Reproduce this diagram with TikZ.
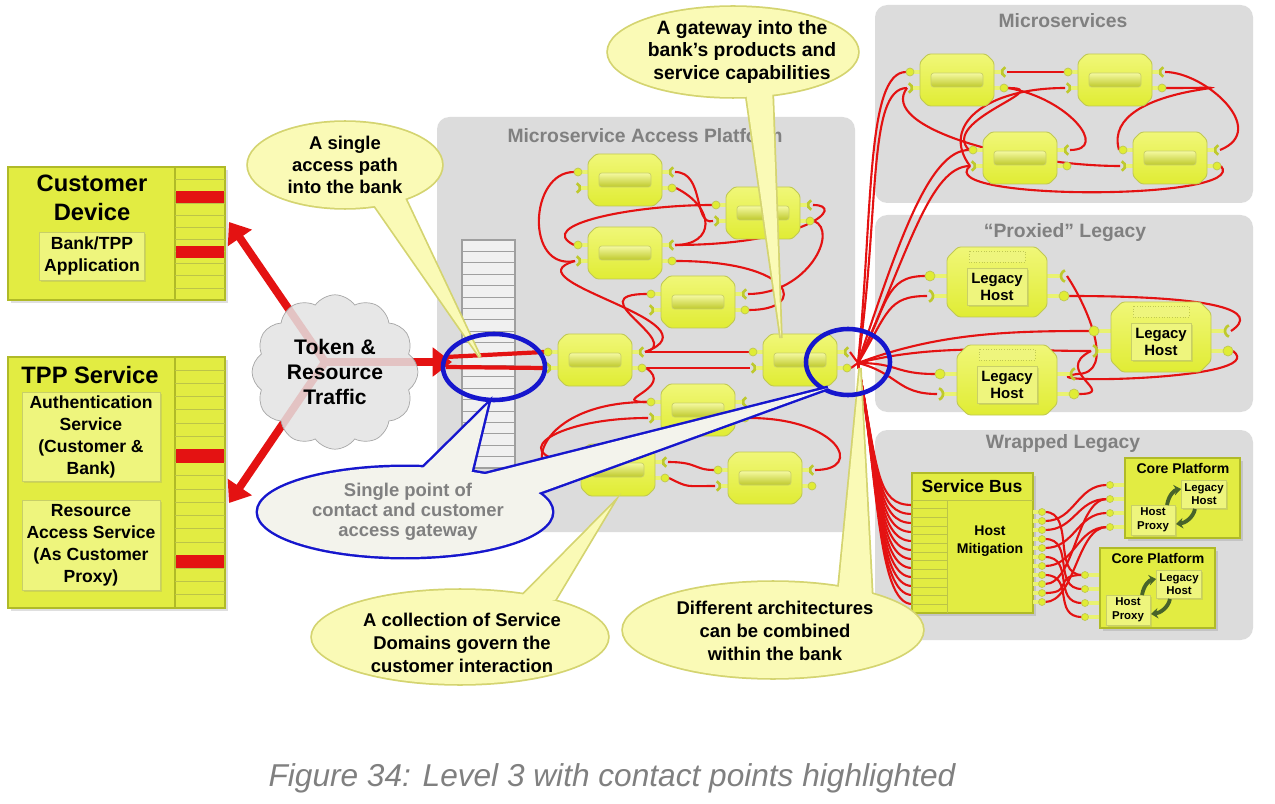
\documentclass[tikz,border=0pt]{standalone}
\usepackage{fontspec}
\setmainfont{Liberation Sans}
\usetikzlibrary{shapes.symbols,arrows.meta,shadows,calc}

\definecolor{panelgray}{RGB}{220,220,220}
\definecolor{titlegray}{RGB}{128,128,128}
\definecolor{devyellow}{RGB}{226,236,66}
\definecolor{devlight}{RGB}{238,245,125}
\definecolor{devedge}{RGB}{176,186,40}
\definecolor{modyellow}{RGB}{224,236,52}
\definecolor{modlight}{RGB}{240,247,120}
\definecolor{wirered}{RGB}{228,18,18}
\definecolor{ringblue}{RGB}{22,22,205}
\definecolor{calloutbg}{RGB}{250,250,182}
\definecolor{calloutedge}{RGB}{212,212,112}
\definecolor{contactbg}{RGB}{243,243,236}
\definecolor{swirlgreen}{RGB}{72,100,42}
\definecolor{captiongray}{RGB}{128,128,128}

\pgfdeclarelayer{panels}
\pgfdeclarelayer{wires}
\pgfsetlayers{panels,wires,main}

\tikzset{
  panel/.style = {fill=panelgray, rounded corners=7pt},
  paneltitle/.style = {text=titlegray, font=\bfseries\fontsize{11}{13}\selectfont},
  devbox/.style = {fill=devyellow, draw=devedge, line width=0.6pt,
                   drop shadow={opacity=0.25, shadow xshift=1.5pt, shadow yshift=-1.5pt}},
  innerbox/.style = {fill=devlight, draw=devedge!70, line width=0.5pt, align=center, inner sep=1pt,
                     drop shadow={opacity=0.2, shadow xshift=1pt, shadow yshift=-1pt}},
  devtitle/.style = {font=\bfseries\fontsize{13.5}{16.5}\selectfont, align=center},
  devtext/.style = {font=\bfseries\fontsize{10}{12.5}\selectfont},
  stripe/.style = {draw=devedge!85, line width=0.5pt},
  gwstack/.style = {fill=gray!12, draw=gray!75, line width=0.6pt},
  gwline/.style = {draw=gray!75, line width=0.5pt},
  wire/.style = {draw=wirered, line width=1.2pt},
  entrywire/.style = {draw=wirered, line width=2.4pt},
  bigarrow/.style = {draw=wirered, line width=4.5pt, -{Triangle[length=11pt,width=16pt]}},
  cloudy/.style = {cloud, cloud puffs=12, cloud puff arc=110, aspect=1.1, draw=gray!70,
                   fill=gray!22, fill opacity=0.85, text opacity=1, align=center,
                   font=\bfseries\fontsize{12}{14}\selectfont},
  modbody/.style = {top color=modlight, bottom color=modyellow, draw=devedge!80,
                    line width=0.5pt, rounded corners=1.5pt},
  modbar/.style = {top color=modlight!70!white, bottom color=modyellow!85!black, draw=devedge!70,
                   line width=0.4pt, rounded corners=1.5pt},
  portstub/.style = {draw=modyellow!70!white, line width=2pt},
  portball/.style = {fill=modyellow, draw=devedge!80, line width=0.4pt},
  portsock/.style = {draw=modyellow!85!black, line width=1.5pt},
  hostcap/.style = {fill=devlight, draw=devedge!80, densely dotted, line width=0.5pt},
  hostbox/.style = {fill=devlight, draw=devedge!70, line width=0.5pt, align=center, inner sep=1pt,
                    font=\bfseries\fontsize{8.5}{10}\selectfont,
                    drop shadow={opacity=0.2, shadow xshift=1pt, shadow yshift=-1pt}},
  smallhost/.style = {hostbox, font=\bfseries\fontsize{6.5}{7.8}\selectfont},
  coretitle/.style = {font=\bfseries\fontsize{8}{9}\selectfont},
  swirl/.style = {draw=swirlgreen, line width=2.2pt, -{Stealth[length=4pt,width=6pt]}},
  calloutrim/.style = {draw=calloutedge, line width=2pt},
  calloutbody/.style = {fill=calloutbg},
  callouttext/.style = {font=\bfseries\fontsize{10.5}{12.6}\selectfont, align=center},
  bluerim/.style = {draw=ringblue, line width=2.8pt},
  bluebody/.style = {fill=contactbg},
  ring/.style = {draw=ringblue, line width=2.6pt}
}

% one service domain module with its four ports
\newcommand\svcdom[3]{%
  \begin{scope}[shift={(#2,#3)}]
    \draw[portstub] (-37,-8) -- (-46,-8) (-37,8) -- (-45,8) (37,-8) -- (45,-8) (37,8) -- (46,8);
    \path[portball] (-47,-8) circle (4) (47,8) circle (4);
    \draw[portsock] (-50,8) ++(-70:5) arc (-70:70:5);
    \draw[portsock] (50,-8) ++(110:5) arc (110:250:5);
    \path[modbody] (-37,-18) -- (-29,-26) -- (29,-26) -- (37,-18) -- (37,18)
                   -- (29,26) -- (-29,26) -- (-37,18) -- cycle;
    \path[modbar] (-26,-7) rectangle (26,7);
    \coordinate (#1-lb) at (-51,-8);
    \coordinate (#1-ls) at (-50,8);
    \coordinate (#1-rs) at (50,-8);
    \coordinate (#1-rb) at (51,8);
  \end{scope}}

% one proxied legacy host
\newcommand\legacyhost[3]{%
  \begin{scope}[shift={(#2,#3)}]
    \draw[portstub] (-50,-6) -- (-66,-6) (-50,14) -- (-64,14) (50,-6) -- (64,-6) (50,14) -- (66,14);
    \path[portball] (-67,-6) circle (5) (67,14) circle (5);
    \draw[portsock] (-70,14) ++(-70:6) arc (-70:70:6);
    \draw[portsock] (70,-6) ++(110:6) arc (110:250:6);
    \path[modbody] (-50,-24) -- (-39,-35) -- (39,-35) -- (50,-24) -- (50,24)
                   -- (39,35) -- (-39,35) -- (-50,24) -- cycle;
    \path[hostcap] (-28,-31) rectangle (28,-20);
    \node[hostbox, minimum width=1.2cm, minimum height=0.74cm] (#1-host) at (0,5) {Legacy\\Host};
    \coordinate (#1-lb) at (-72,-6);
    \coordinate (#1-ls) at (-70,14);
    \coordinate (#1-rs) at (70,-6);
    \coordinate (#1-rb) at (72,14);
  \end{scope}}

% core platform with host proxy
\newcommand\coreplat[3]{%
  \begin{scope}[shift={(#2,#3)}]
    \foreach \py [count=\k] in {27,41,55,69} {
      \draw[portstub] (-14,\py) -- (0,\py);
      \path[portball] (-15,\py) circle (3.5);
      \coordinate (#1-p\k) at (-18,\py);
    }
    \path[devbox] (0,0) rectangle (115,80);
    \node[coretitle] (#1-title) at (58,10) {Core Platform};
    \node[smallhost, minimum width=0.9cm, minimum height=0.56cm] (#1-legacy) at (79,36) {Legacy\\Host};
    \node[smallhost, minimum width=0.88cm, minimum height=0.6cm] (#1-proxy) at (28,62) {Host\\Proxy};
    \draw[swirl] (42,47) .. controls (44,36) and (50,32) .. (56,31);
    \draw[swirl] (70,51) .. controls (68,60) and (60,65) .. (51,66);
  \end{scope}}

\begin{document}
\begin{tikzpicture}[x=0.02cm, y=-0.02cm]
  \useasboundingbox (0,0) rectangle (1275,804);

  \begin{pgfonlayer}{panels}
    \fill[white] (0,0) rectangle (1275,804);
    \path[panel] (437,117) rectangle (855,532);
    \path[panel] (875,5) rectangle (1253,203);
    \path[panel] (875,215) rectangle (1253,412);
    \path[panel] (875,430) rectangle (1253,640);
    \node[paneltitle] (maptitle) at (645,136) {Microservice Access Platform};
    \node[paneltitle] (mstitle) at (1063,21) {Microservices};
    \node[paneltitle] (pxtitle) at (1065,233) {“Proxied” Legacy};
    \node[paneltitle] (wltitle) at (1063,444) {Wrapped Legacy};
    % access gateway stack
    \path[gwstack] (462,240) rectangle (515,468);
    \foreach \k in {1,...,19}
      \draw[gwline] (462,{240+11.4*\k}) -- (515,{240+11.4*\k});
  \end{pgfonlayer}

  % microservice access platform
  \svcdom{A}{625}{180}
  \svcdom{B}{763}{213}
  \svcdom{C}{625}{253}
  \svcdom{D}{698}{302}
  \svcdom{E}{595}{360}
  \svcdom{F}{800}{360}
  \svcdom{G}{698}{410}
  \svcdom{H}{618}{470}
  \svcdom{I}{765}{478}

  % microservices
  \svcdom{ms1}{957}{80}
  \svcdom{ms2}{1115}{80}
  \svcdom{ms3}{1020}{158}
  \svcdom{ms4}{1170}{158}

  % proxied legacy
  \legacyhost{lh1}{997}{282}
  \legacyhost{lh2}{1161}{337}
  \legacyhost{lh3}{1007}{380}

  % wrapped legacy
  \path[devbox] (912,473) rectangle (1033,613);
  \draw[stripe] (912,500) -- (1033,500);
  \draw[stripe] (947,500) -- (947,613);
  \foreach \k in {1,...,12}
    \draw[stripe] (912,{500+8.7*\k}) -- (947,{500+8.7*\k});
  \node[font=\bfseries\fontsize{10}{12}\selectfont] (busname) at (972,486) {Service Bus};
  \node[font=\bfseries\fontsize{8}{10}\selectfont, align=center] (mitigation) at (990,541) {Host\\Mitigation};
  \foreach \k in {0,...,10} {
    \draw[portstub] (1033,{512+9*\k}) -- (1041,{512+9*\k});
    \path[portball] (1042,{512+9*\k}) circle (3.5);
    \coordinate (bus-o\k) at (1045,{512+9*\k});
  }
  \foreach \k in {0,...,11}
    \coordinate (bus-i\k) at (912,{505+9*\k});
  \coreplat{cpa}{1125}{458}
  \coreplat{cpb}{1100}{548}

  \coordinate (hub) at (858,363);
  \coordinate (gw-a) at (446,357);
  \coordinate (gw-b) at (446,367);

  \begin{pgfonlayer}{wires}
    \draw[entrywire] (gw-a) -- (E-lb);
    \draw[entrywire] (gw-b) -- (E-ls);
    \draw[wire] (A-lb) .. controls +(-45,0) and +(-50,10) .. (C-ls);
    \draw[wire] (A-rs) .. controls +(30,0) and +(-20,5) .. (B-ls);
    \draw[wire] (A-rb) .. controls +(40,20) and +(40,0) .. (C-rs);
    \draw[wire] (B-lb) .. controls +(-80,0) and +(-40,-20) .. (C-lb);
    \draw[wire] (B-rs) .. controls +(35,0) and +(130,0) .. (C-rs);
    \draw[wire] (B-rb) .. controls +(25,10) and +(60,0) .. (D-rs);
    \draw[wire] (C-rb) .. controls +(120,0) and +(60,0) .. (D-rb);
    \draw[wire] (D-lb) .. controls +(-70,0) and +(40,-10) .. (E-rs);
    \draw[wire] (C-ls) .. controls +(-70,20) and +(80,-30) .. (E-rs);
    \draw[wire] (E-rs) -- (F-lb);
    \draw[wire] (E-rb) -- (F-ls);
    \draw[wire] (E-rb) .. controls +(30,20) and +(-40,0) .. (G-lb);
    \draw[wire] (G-ls) .. controls +(-90,0) and +(-60,-10) .. (H-lb);
    \draw[wire] (G-lb) .. controls +(-110,0) and +(-50,0) .. (H-ls);
    \draw[wire] (H-rs) .. controls +(30,0) and +(-20,0) .. (I-lb);
    \draw[wire] (H-rb) .. controls +(20,10) and +(-30,0) .. (I-ls);
    \draw[wire] (G-rb) .. controls +(90,0) and +(50,0) .. (I-rs);
    \draw[wire] (F-rs) -- (hub);
    \draw[wire] (F-rb) -- (hub);
    % fan out to the microservices
    \draw[wire] (hub) .. controls +(15,-150) and +(-40,0) .. (ms1-lb);
    \draw[wire] (hub) .. controls +(22,-150) and +(-40,0) .. (ms1-ls);
    \draw[wire] (hub) .. controls +(40,-120) and +(-40,0) .. (ms3-lb);
    \draw[wire] (hub) .. controls +(50,-110) and +(-40,0) .. (ms3-ls);
    \draw[wire] (ms1-rs) -- (ms2-lb);
    \draw[wire] (ms1-rb) .. controls +(50,0) and +(-30,-30) .. (ms3-lb);
    \draw[wire] (ms2-ls) .. controls +(-80,0) and +(-30,-40) .. (ms3-ls);
    \draw[wire] (ms2-rs) .. controls +(40,0) and +(50,-20) .. (ms4-rs);
    \draw[wire] (ms2-rb) .. controls +(130,0) and +(-20,-70) .. (ms4-lb);
    \draw[wire] (ms4-rb) .. controls +(30,35) and +(-40,35) .. (ms3-ls);
    \draw[wire] (ms3-rs) .. controls +(40,0) and +(60,10) .. (ms1-rb);
    \draw[wire] (ms1-ls) .. controls +(-30,40) and +(-100,0) .. (ms4-ls);
    % fan out to the proxied legacy hosts
    \draw[wire] (hub) .. controls +(30,-60) and +(-40,0) .. (lh1-lb);
    \draw[wire] (hub) .. controls +(30,-50) and +(-40,0) .. (lh1-ls);
    \draw[wire] (hub) .. controls +(40,0) and +(-40,0) .. (lh3-lb);
    \draw[wire] (hub) .. controls +(40,10) and +(-40,0) .. (lh3-ls);
    \draw[wire] (hub) .. controls +(80,-30) and +(-80,0) .. (lh2-lb);
    \draw[wire] (hub) .. controls +(80,-20) and +(-80,0) .. (lh2-ls);
    \draw[wire] (lh1-rs) .. controls +(20,30) and +(40,0) .. (lh3-rs);
    \draw[wire] (lh1-rb) .. controls +(150,0) and +(30,-20) .. (lh2-rs);
    \draw[wire] (lh2-rb) .. controls +(40,30) and +(-60,10) .. (lh3-rs);
    \draw[wire] (lh3-rb) .. controls +(40,0) and +(-40,20) .. (lh2-ls);
    % fan out to the service bus
    \foreach \k in {0,...,11}
      \draw[wire] (hub) .. controls +(20,110) and +(-35,0) .. (bus-i\k);
    \draw[wire] (bus-o0) .. controls +(30,0) and +(-30,0) .. (cpb-p1);
    \draw[wire] (bus-o1) .. controls +(30,0) and +(-30,0) .. (cpa-p1);
    \draw[wire] (bus-o2) .. controls +(30,0) and +(-30,0) .. (cpa-p2);
    \draw[wire] (bus-o3) .. controls +(30,0) and +(-30,0) .. (cpb-p2);
    \draw[wire] (bus-o4) .. controls +(30,0) and +(-30,0) .. (cpa-p3);
    \draw[wire] (bus-o5) .. controls +(30,0) and +(-30,0) .. (cpb-p3);
    \draw[wire] (bus-o6) .. controls +(30,0) and +(-30,0) .. (cpa-p4);
    \draw[wire] (bus-o7) .. controls +(30,0) and +(-30,0) .. (cpb-p4);
    \draw[wire] (bus-o8) .. controls +(30,0) and +(-30,0) .. (cpa-p2);
    \draw[wire] (bus-o9) .. controls +(30,0) and +(-30,0) .. (cpb-p1);
    \draw[wire] (bus-o10) .. controls +(30,0) and +(-30,0) .. (cpa-p4);
  \end{pgfonlayer}

  % customer device
  \path[devbox] (8,167) rectangle (175,300);
  \path[devbox] (175,167) rectangle (225,300);
  \foreach \k in {1,...,10}
    \draw[stripe] (175,{167+12.1*\k}) -- (225,{167+12.1*\k});
  \fill[wirered] (176,{167+2*12.1}) rectangle (224,{167+3*12.1});
  \fill[wirered] (176,{167+6.5*12.1}) rectangle (224,{167+7.5*12.1});
  \node[devtitle] (custdev) at (92,198) {Customer\\Device};
  \node[innerbox, devtext, minimum width=2.1cm, minimum height=0.96cm] (bankapp) at (92,256) {Bank/TPP\\Application};

  % TPP service
  \path[devbox] (8,357) rectangle (175,608);
  \path[devbox] (175,357) rectangle (225,608);
  \foreach \k in {1,...,18}
    \draw[stripe] (175,{357+13.21*\k}) -- (225,{357+13.21*\k});
  \fill[wirered] (176,{357+7*13.21}) rectangle (224,{357+8*13.21});
  \fill[wirered] (176,{357+15*13.21}) rectangle (224,{357+16*13.21});
  \node[devtitle] (tppsvc) at (90,375) {TPP Service};
  \node[innerbox, devtext, minimum width=2.76cm, minimum height=1.78cm] (authsvc) at (91,437) {Authentication\\Service\\(Customer \&\\Bank)};
  \node[innerbox, devtext, minimum width=2.76cm, minimum height=1.8cm] (rasvc) at (91,545) {Resource\\Access Service\\(As Customer\\Proxy)};

  % token traffic
  \coordinate (tc) at (325,362);
  \coordinate (cd-in) at (229,222);
  \coordinate (tpp-in) at (229,503);
  \coordinate (gw-in) at (452,362);
  \draw[bigarrow] (tc) -- (cd-in);
  \draw[bigarrow] (tc) -- (tpp-in);
  \draw[bigarrow] (tc) -- (gw-in);
  \node[cloudy, minimum width=3.3cm, minimum height=3cm] (traffic) at (335,372) {Token \&\\Resource\\Traffic};

  % callouts
  \path[calloutrim] (345,165) ellipse (97 and 43);
  \path[calloutrim] (368,196) -- (480,357) -- (402,192) -- cycle;
  \path[calloutbody] (345,165) ellipse (97 and 43);
  \path[calloutbody] (368,196) -- (480,357) -- (402,192) -- cycle;
  \node[callouttext] (accesspath) at (345,165) {A single\\access path\\into the bank};

  \path[calloutrim] (733,52) ellipse (125 and 45);
  \path[calloutrim] (745,85) -- (781,338) -- (772,85) -- cycle;
  \path[calloutbody] (733,52) ellipse (125 and 45);
  \path[calloutbody] (745,85) -- (781,338) -- (772,85) -- cycle;
  \node[callouttext, font=\bfseries\fontsize{11}{12.8}\selectfont] (gateway) at (742,52) {A gateway into the\\bank’s products and\\service capabilities};

  \path[calloutrim] (460,637) ellipse (148 and 47);
  \path[calloutrim] (515,603) -- (612,505) -- (555,600) -- cycle;
  \path[calloutbody] (460,637) ellipse (148 and 47);
  \path[calloutbody] (515,603) -- (612,505) -- (555,600) -- cycle;
  \node[callouttext, font=\bfseries\fontsize{10.5}{13}\selectfont] (collection) at (462,643) {A collection of Service\\Domains govern the\\customer interaction};

  \path[calloutrim] (773,630) ellipse (150 and 48);
  \path[calloutrim] (838,596) -- (860,368) -- (872,598) -- cycle;
  \path[calloutbody] (773,630) ellipse (150 and 48);
  \path[calloutbody] (838,596) -- (860,368) -- (872,598) -- cycle;
  \node[callouttext, font=\bfseries\fontsize{10.5}{13.2}\selectfont] (combined) at (775,631) {Different architectures\\can be combined\\within the bank};

  % contact points
  \path[ring] (494,367) ellipse (51 and 33);
  \path[ring] (848,362) ellipse (42 and 33);

  \path[bluerim] (405,512) ellipse (147 and 45);
  \path[bluerim] (413,478) -- (488,404) -- (470,478) -- (828,388) -- (530,496) -- cycle;
  \path[bluebody] (405,512) ellipse (147 and 45);
  \path[bluebody] (413,478) -- (488,404) -- (470,478) -- (828,388) -- (530,496) -- cycle;
  \node[callouttext, text=titlegray, font=\bfseries\fontsize{10.5}{11.4}\selectfont] (contact) at (408,512) {Single point of\\contact and customer\\access gateway};

  \node[text=captiongray, font=\itshape\fontsize{18}{21}\selectfont] (caption) at (612,778) {Figure 34: Level 3 with contact points highlighted};
\end{tikzpicture}
\end{document}
